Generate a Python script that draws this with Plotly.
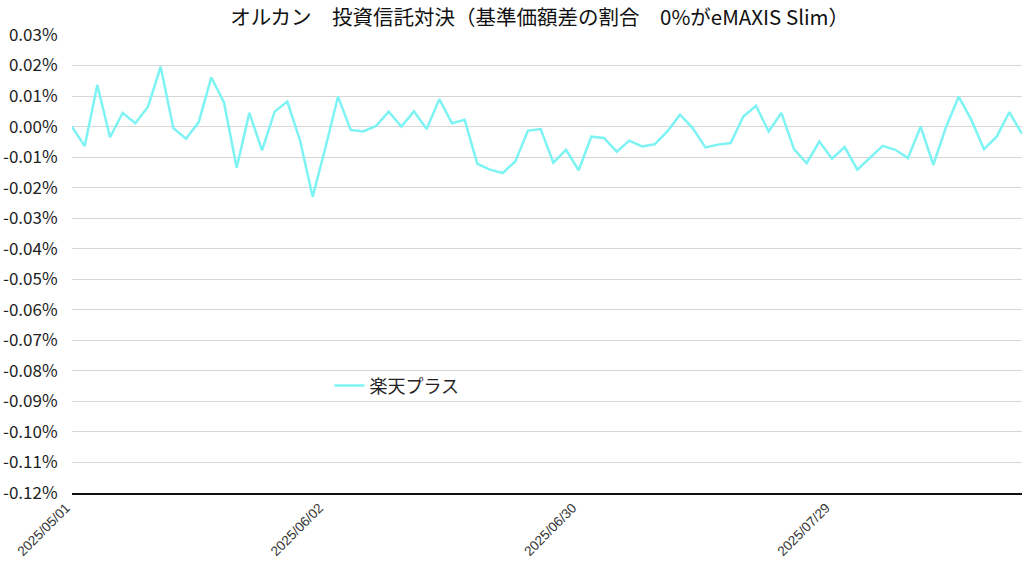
import plotly.graph_objects as go

dates = [
    "2025/05/01", "2025/05/02", "2025/05/07", "2025/05/08", "2025/05/09",
    "2025/05/12", "2025/05/13", "2025/05/14", "2025/05/15", "2025/05/16",
    "2025/05/19", "2025/05/20", "2025/05/21", "2025/05/22", "2025/05/23",
    "2025/05/26", "2025/05/27", "2025/05/28", "2025/05/29", "2025/05/30",
    "2025/06/02", "2025/06/03", "2025/06/04", "2025/06/05", "2025/06/06",
    "2025/06/09", "2025/06/10", "2025/06/11", "2025/06/12", "2025/06/13",
    "2025/06/16", "2025/06/17", "2025/06/18", "2025/06/19", "2025/06/20",
    "2025/06/23", "2025/06/24", "2025/06/25", "2025/06/26", "2025/06/27",
    "2025/06/30", "2025/07/01", "2025/07/02", "2025/07/03", "2025/07/04",
    "2025/07/07", "2025/07/08", "2025/07/09", "2025/07/10", "2025/07/11",
    "2025/07/14", "2025/07/15", "2025/07/16", "2025/07/17", "2025/07/18",
    "2025/07/22", "2025/07/23", "2025/07/24", "2025/07/25", "2025/07/28",
    "2025/07/29", "2025/07/30", "2025/07/31", "2025/08/01", "2025/08/04",
    "2025/08/05", "2025/08/06", "2025/08/07", "2025/08/08", "2025/08/12",
    "2025/08/13", "2025/08/14", "2025/08/15", "2025/08/18", "2025/08/19",
    "2025/08/20",
]

# 基準価額差の割合 (%)
rakuten_plus = [
    0.0000, -0.0064, 0.0136, -0.0035, 0.0045, 0.0011, 0.0065, 0.0196, -0.0005, -0.0040,
    0.0014, 0.0161, 0.0079, -0.0135, 0.0045, -0.0078, 0.0049, 0.0082, -0.0045, -0.0230,
    -0.0070, 0.0098, -0.0011, -0.0016, 0.0002, 0.0049, 0.0000, 0.0050, -0.0008, 0.0090,
    0.0011, 0.0022, -0.0122, -0.0141, -0.0152, -0.0114, -0.0013, -0.0008, -0.0118, -0.0076,
    -0.0143, -0.0033, -0.0037, -0.0082, -0.0046, -0.0065, -0.0058, -0.0016, 0.0039, -0.0005,
    -0.0068, -0.0059, -0.0054, 0.0033, 0.0068, -0.0016, 0.0045, -0.0074, -0.0120, -0.0049,
    -0.0105, -0.0067, -0.0141, -0.0102, -0.0063, -0.0076, -0.0103, 0.0000, -0.0125, -0.0002,
    0.0098, 0.0022, -0.0074, -0.0033, 0.0047, -0.0024,
]

tick_labels = ["2025/05/01", "2025/06/02", "2025/06/30", "2025/07/29"]
y_ticks = [round(0.03 - 0.01 * k, 2) for k in range(16)]

fig = go.Figure()
fig.add_trace(go.Scatter(
    x=dates, y=rakuten_plus, mode="lines", name="楽天プラス",
    line=dict(color="#7EF3F3", width=2.5),
))

fig.update_layout(
    width=1024, height=563,
    paper_bgcolor="white", plot_bgcolor="white",
    margin=dict(l=72, r=2, t=35, b=70),
    font=dict(family="Noto Sans CJK JP, sans-serif", color="#222222"),
    title=dict(
        text="オルカン　投資信託対決（基準価額差の割合　0%がeMAXIS Slim）",
        x=0.527, xref="container", xanchor="center",
        y=0.969, yref="container", yanchor="middle",
        font=dict(size=20.5, color="#111111"),
    ),
    showlegend=True,
    legend=dict(
        x=0.271, y=0.234, xanchor="left", yanchor="middle",
        bgcolor="rgba(0,0,0,0)", font=dict(size=18, color="#222222"),
    ),
    xaxis=dict(
        type="category", range=[0, len(dates) - 1],
        tickmode="array", tickvals=tick_labels, ticktext=tick_labels,
        tickangle=-45, tickfont=dict(family="Liberation Sans, Arial", size=13.5, color="#333333"),
        ticklabelshift=-6,
        showgrid=False, zeroline=False, automargin=False,
        showline=True, linecolor="#111111", linewidth=1.5,
        ticks="",
    ),
    yaxis=dict(
        range=[-0.12, 0.03], automargin=False,
        tickmode="array", tickvals=y_ticks,
        ticktext=[f"{v:.2f}%" for v in y_ticks],
        tickfont=dict(size=17, color="#222222"),
        showgrid=True, gridcolor="#d6d6d6", gridwidth=1,
        zeroline=False, showline=False,
        ticks="outside", ticklen=10, tickcolor="rgba(0,0,0,0)",
    ),
)

fig.write_html(
    "out.html",
    config={"displayModeBar": False},
    post_script="document.body.style.margin='0px';document.body.style.overflow='hidden';",
)
